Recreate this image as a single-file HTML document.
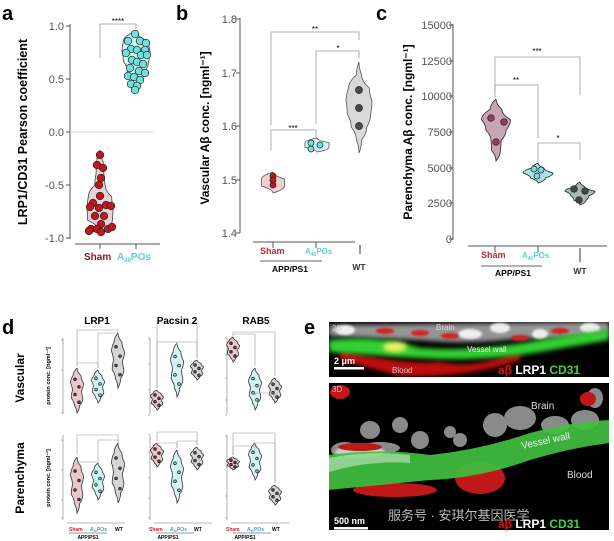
<!DOCTYPE html>
<html><head><meta charset="utf-8"><style>
html,body{margin:0;padding:0;background:#fff;}
svg{display:block;font-family:"Liberation Sans",sans-serif;}
.t{font-size:11px;fill:#555;}
.b{font-weight:bold;}
</style></head><body>
<svg id="s" width="614" height="541" viewBox="0 0 614 541" xmlns="http://www.w3.org/2000/svg">
<defs>
<filter id="bl" x="-20%" y="-50%" width="140%" height="200%"><feGaussianBlur stdDeviation="2.5"/></filter>
<filter id="bl2" x="-20%" y="-50%" width="140%" height="200%"><feGaussianBlur stdDeviation="1"/></filter>
<clipPath id="c2d"><rect x="329" y="322" width="280" height="55"/></clipPath>
<clipPath id="c3d"><rect x="329" y="383" width="280" height="147"/></clipPath>
</defs>
<g id="shapes"></g>
<text x="2" y="20" font-size="20" class="b">a</text>
<text x="176" y="20" font-size="20" class="b">b</text>
<text x="376" y="20" font-size="20" class="b">c</text>
<text x="2" y="334" font-size="20" class="b">d</text>
<text x="304" y="334" font-size="20" class="b">e</text>
<g class="t" text-anchor="end">
<text x="64" y="30">1.0</text><text x="64" y="83">0.5</text><text x="64" y="136">0.0</text><text x="64" y="189">-0.5</text><text x="64" y="242">-1.0</text>
</g>
<text transform="translate(27,132) rotate(-90)" text-anchor="middle" font-size="12.5" class="b">LRP1/CD31 Pearson coefficient</text>
<text x="118" y="24" font-size="8" text-anchor="middle">****</text>
<text x="84" y="260" font-size="10" class="b" fill="#8b1a1f">Sham</text>
<text x="117" y="260" font-size="10" class="b" fill="#5ed0d0">A<tspan font-size="6" dy="2">40</tspan><tspan dy="-2">POs</tspan></text>
<g class="t" text-anchor="end" font-size="10">
<text x="237" y="23">1.8</text><text x="237" y="77">1.7</text><text x="237" y="130">1.6</text><text x="237" y="184">1.5</text><text x="237" y="237">1.4</text>
</g>
<text transform="translate(209,128) rotate(-90)" text-anchor="middle" font-size="12" class="b">Vascular Aβ  conc. [ngml⁻¹]</text>
<text x="315" y="32" font-size="8" text-anchor="middle">**</text>
<text x="338" y="51" font-size="8" text-anchor="middle">*</text>
<text x="293" y="131" font-size="8" text-anchor="middle">***</text>
<text x="260" y="254" font-size="9" class="b" fill="#c0282d">Sham</text>
<text x="305" y="254" font-size="8" class="b" fill="#5ed0d0">A<tspan font-size="5" dy="2">40</tspan><tspan dy="-2">POs</tspan></text>
<text x="290" y="272" font-size="8.5" class="b" text-anchor="middle">APP/PS1</text>
<text x="359" y="270" font-size="8.5" class="b" text-anchor="middle" fill="#333">WT</text>
<g class="t" text-anchor="end" font-size="10">
<text x="452" y="29">15000</text><text x="452" y="65">12500</text><text x="452" y="100">10000</text><text x="452" y="136">7500</text><text x="452" y="172">5000</text><text x="452" y="207">2500</text><text x="452" y="243">0</text>
</g>
<text transform="translate(412,132) rotate(-90)" text-anchor="middle" font-size="12" class="b">Parenchyma Aβ conc. [ngml⁻¹]</text>
<text x="537" y="54" font-size="8" text-anchor="middle">***</text>
<text x="516" y="83" font-size="8" text-anchor="middle">**</text>
<text x="558" y="141" font-size="8" text-anchor="middle">*</text>
<text x="481" y="258" font-size="9" class="b" fill="#c0282d">Sham</text>
<text x="522" y="258" font-size="8" class="b" fill="#5ed0d0">A<tspan font-size="5" dy="2">40</tspan><tspan dy="-2">POs</tspan></text>
<text x="513" y="276" font-size="8.5" class="b" text-anchor="middle">APP/PS1</text>
<text x="580" y="274" font-size="8.5" class="b" text-anchor="middle" fill="#333">WT</text>
<text x="97" y="324" font-size="10" class="b" text-anchor="middle">LRP1</text>
<text x="177" y="324" font-size="10" class="b" text-anchor="middle">Pacsin 2</text>
<text x="256" y="324" font-size="10" class="b" text-anchor="middle">RAB5</text>
<text transform="translate(24,378) rotate(-90)" text-anchor="middle" font-size="12" class="b">Vascular</text>
<text transform="translate(24,478) rotate(-90)" text-anchor="middle" font-size="12" class="b">Parenchyma</text>
<text transform="translate(50,376) rotate(-90)" text-anchor="middle" font-size="5.5" class="b">protein conc. [ngml⁻¹]</text>
<text transform="translate(50,478) rotate(-90)" text-anchor="middle" font-size="5.5" class="b">protein conc. [ngml⁻¹]</text>
<g font-size="5" class="b">
<text x="69" y="531" fill="#c0282d">Sham</text><text x="90" y="531" fill="#3aa8a8">A<tspan font-size="3" dy="1">40</tspan><tspan dy="-1">POs</tspan></text><text x="115" y="531">WT</text>
<text x="149" y="531" fill="#c0282d">Sham</text><text x="170" y="531" fill="#3aa8a8">A<tspan font-size="3" dy="1">40</tspan><tspan dy="-1">POs</tspan></text><text x="194" y="531">WT</text>
<text x="226" y="531" fill="#c0282d">Sham</text><text x="247" y="531" fill="#3aa8a8">A<tspan font-size="3" dy="1">40</tspan><tspan dy="-1">POs</tspan></text><text x="272" y="531">WT</text>
<text x="88" y="539" text-anchor="middle">APP/PS1</text><text x="168" y="539" text-anchor="middle">APP/PS1</text><text x="245" y="539" text-anchor="middle">APP/PS1</text>
</g>
<g id="etext">
<text x="332" y="331" font-size="8" fill="#ccc">2D</text>
<text x="436" y="330" font-size="8" fill="#ddd">Brain</text>
<text x="467" y="352" font-size="8" fill="#eee">Vessel wall</text>
<text x="392" y="373" font-size="8" fill="#ccc">Blood</text>
<text x="334" y="364" font-size="9" fill="#fff" class="b">2 μm</text>
<rect x="334" y="367" width="30" height="2.5" fill="#fff"/>
<text x="498" y="374" font-size="12" class="b"><tspan fill="#e01010">aβ</tspan> <tspan fill="#fff">LRP1</tspan> <tspan fill="#3ed83e">CD31</tspan></text>
<text x="332" y="392" font-size="8" fill="#ccc">3D</text>
<text x="531" y="409" font-size="10" fill="#ddd">Brain</text>
<text transform="translate(522,449) rotate(-12)" font-size="10" fill="#eee">Vessel wall</text>
<text x="567" y="478" font-size="10" fill="#ddd">Blood</text>
<text x="334" y="524" font-size="9" fill="#fff" class="b">500 nm</text>
<rect x="334" y="527" width="34" height="2.5" fill="#fff"/>
<text x="388" y="520" font-size="13" fill="#bbb" font-family="'Liberation Sans','Noto Sans CJK SC',sans-serif">服务号 · 安琪尔基因医学</text>
<text x="498" y="528" font-size="12" class="b"><tspan fill="#e01010">aβ</tspan> <tspan fill="#fff">LRP1</tspan> <tspan fill="#3ed83e">CD31</tspan></text>
</g>
</svg>
<script>
const NS="http://www.w3.org/2000/svg";
const G=document.getElementById('shapes');
function el(t,a,p){const e=document.createElementNS(NS,t);for(const k in a)e.setAttribute(k,a[k]);(p||G).appendChild(e);return e;}
function line(x1,y1,x2,y2,c,w){el('line',{x1,y1,x2,y2,stroke:c||'#333','stroke-width':w||1});}
function pl(pts,c,w){el('polyline',{points:pts,fill:'none',stroke:c||'#999','stroke-width':w||0.8});}
function violin(cx,yt,yb,w,fill,stroke,bulge){
 bulge=bulge||[0,0.5,1,0.8,0.5,0];
 let n=bulge.length-1,L=[],R=[];
 for(let i=0;i<=n;i++){let y=yt+(yb-yt)*i/n;L.push([cx-w/2*bulge[i],y]);R.push([cx+w/2*bulge[i],y]);}
 let d='M'+cx+','+yt;
 for(let i=1;i<=n;i++){let p0=R[i-1],p=R[i];d+=` Q${p0[0]},${(p0[1]+p[1])/2} ${p[0]},${p[1]}`;}
 for(let i=n-1;i>=0;i--){let p0=L[i+1],p=L[i];d+=` Q${p0[0]},${(p0[1]+p[1])/2} ${p[0]},${p[1]}`;}
 el('path',{d,fill,stroke:stroke||'#333','stroke-width':0.8});
}
function dot(x,y,r,f,s){el('circle',{cx:x,cy:y,r,fill:f,stroke:s||'#222','stroke-width':0.7});}
// panel a
line(70,24,70,239,'#555',1);
[26,79,132,185,238].forEach(y=>line(66,y,70,y,'#555'));
line(70,132,153,132,'#ccc',0.8);
line(75,244,160,244,'#555',1);line(100,244,100,249,'#555');line(136,244,136,249,'#555');
pl('100,58 100,24 136,24 136,29','#999');
violin(100,150,232,26,'#e8d4d8','#444',[0,0.25,0.3,0.4,0.9,1,0.95,0]);
violin(136,31,92,28,'#d8f2f2','#444',[0,0.9,1,0.9,0.6,0.3,0]);
const ra=[[100,155],[97,165],[103,168],[101,178],[99,185],[100,196],[93,203],[106,205],[90,207],[99,208],[111,206],[95,216],[104,216],[101,224],[91,229],[97,229],[108,229],[112,227],[89,231],[101,232]];
ra.forEach(p=>dot(p[0],p[1],3.8,'#c0181d'));
const ca=[[135,34],[128,41],[140,41],[146,43],[131,49],[137,50],[145,50],[126,53],[141,55],[147,55],[132,60],[137,62],[143,64],[130,68],[139,71],[145,73],[128,76],[134,77],[140,80],[131,84],[137,86],[135,90]];
ca.forEach(p=>dot(p[0],p[1],3.8,'#6ee0e0'));
// panel b
line(240,18,240,233,'#555');
[19,73,126,180,233].forEach(y=>line(236,y,240,y,'#555'));
line(253,242,355,242,'#555');line(273,242,273,248,'#555');line(316,242,316,248,'#555');
line(360,245,360,254,'#333',1);
line(260,261,322,261,'#333',0.8);
pl('271,125 271,32 359,32 359,40','#999');pl('316,124 316,51 359,51 359,58','#999');pl('271,150 271,130 316,130 316,138','#999');
violin(273,172,193,23,'#eecfd3','#555',[0,1,1,0]);
violin(317,138,152,24,'#d8f6f6','#555',[0,1,1,0]);
violin(359,62,153,26,'#d8d8d8','#555',[0,0.2,0.8,1,0.9,0.6,0.2,0]);
[[273,176],[273,180],[273,185]].forEach(p=>dot(p[0],p[1],3,'#c01818'));
[[311,143],[320,145],[311,149]].forEach(p=>dot(p[0],p[1],3,'#70e0e0'));
[[359,90],[359,108],[359,126]].forEach(p=>dot(p[0],p[1],3.5,'#4a4a4a'));
// panel c
line(453,24,453,240,'#555');
[25,61,96,132,168,203,239].forEach(y=>line(449,y,453,y,'#555'));
line(468,246,607,246,'#555');line(495,246,495,252,'#555');line(538,246,538,252,'#555');
line(580,248,580,262,'#333',1);
line(481,266,542,266,'#333',0.8);
pl('495,92 495,57 580,57 580,95','#999');pl('495,98 495,85 538,85 538,138','#999');pl('538,163 538,143 580,143 580,160','#999');
violin(496,99,161,29,'#c8a4b4','#222',[0,0.4,1,0.7,0.35,0.3,0]);
violin(538,163,183,30,'#a8e4e4','#222',[0,0.4,1,0.5,0]);
violin(580,182,205,30,'#a8b8b4','#222',[0,0.3,1,0.6,0.4,0]);
[[491,118],[504,122],[496,142]].forEach(p=>dot(p[0],p[1],3.3,'#9b3a5a'));
[[534,169],[541,170],[537,176]].forEach(p=>dot(p[0],p[1],3,'#70e0e0'));
[[574,189],[585,191],[579,200]].forEach(p=>dot(p[0],p[1],3.3,'#3e4a48'));
// panel d
const cols=[[63,[77,98,118]],[150,[157,177,197]],[227,[233,255,275]]];
const rows=[[338,414],[435,520]];
const vd=[
 [[[368,413],[370,403],[333,388]],[[457,513],[463,500],[443,503]]],
 [[[390,410],[343,397],[360,380]],[[443,467],[450,503],[447,470]]],
 [[[337,362],[368,410],[378,403]],[[457,470],[443,480],[485,505]]]
];
const ytk=[[[340,370,413],[440,470,500,518]],[[338,364,390,415],[434,452,478,498,518]],[[338,355,378,400,415],[436,466,496,518]]];
const br=[
 [[[0,2,330],[1,2,333],[0,1,363]],[[0,2,435],[1,2,440],[0,1,462]]],
 [[[0,2,323],[0,1,342],[1,2,342]],[[0,2,432],[0,1,443],[1,2,441]]],
 [[[0,2,332],[0,1,334],[1,2,393]],[[0,2,433],[0,1,446],[1,2,443]]]
];
const fc=['#e8c8cf','#d4f2f2','#d6d6d6'], dc=['#8b2a3a','#6ed8d8','#555'];
cols.forEach((c,ci)=>{
 rows.forEach((r,ri)=>{
  line(c[0],r[0],c[0],r[1],'#777',0.6);
  ytk[ci][ri].forEach(y=>line(c[0]-2,y,c[0],y,'#777',0.5));
  const v=vd[ci][ri];
  v.forEach((vv,gi)=>{
   const cx=c[1][gi];
   violin(cx,vv[0],vv[1],13,fc[gi],'#333',[0,0.6,1,0.7,0.9,0.4,0]);
   for(let k=0;k<4;k++)dot(cx+(k%2?2:-2),vv[0]+(vv[1]-vv[0])*(0.25+k*0.17),1.4,dc[gi],'#222');
  });
  br[ci][ri].forEach(b=>{const x1=c[1][b[0]],x2=c[1][b[1]];
   const e1=v[b[0]][0]-2,e2=v[b[1]][0]-2;
   pl(`${x1},${Math.max(e1,b[2]+3)} ${x1},${b[2]} ${x2},${b[2]} ${x2},${Math.max(e2,b[2]+3)}`,'#999',0.6);});
 });
 line(c[0]+4,523,c[0]+62,523,'#777',0.6);
 line(c[0]+6,533,c[0]+44,533,'#333',0.5);
});
// panel e
el('rect',{x:329,y:322,width:280,height:55,fill:'#000'});
const g2=el('g',{'clip-path':'url(#c2d)'});
el('path',{d:'M329,325 L609,322 L609,334 Q560,340 520,338 Q470,345 420,340 L329,336Z',fill:'#bbb',filter:'url(#bl)',opacity:0.8},g2);
[[345,330,10],[470,334,12],[500,328,10],[540,334,8],[590,328,10]].forEach(b=>el('ellipse',{cx:b[0],cy:b[1],rx:b[2],ry:5,fill:'#eee',filter:'url(#bl2)'},g2));
el('path',{d:'M340,350 Q400,365 440,362 Q470,368 500,358 L520,352 L520,360 Q470,378 400,376 L340,360Z',fill:'#c01010',filter:'url(#bl)'},g2);
[[385,331],[420,333],[450,336],[560,331],[520,338]].forEach(b=>el('ellipse',{cx:b[0],cy:b[1],rx:9,ry:3,fill:'#d02020',filter:'url(#bl2)'},g2));
el('path',{d:'M329,340 Q380,335 420,348 Q480,352 540,340 Q580,333 609,330 L609,340 Q580,345 540,352 Q480,362 420,358 Q370,355 329,352Z',fill:'#30d030',filter:'url(#bl)'},g2);
el('ellipse',{cx:395,cy:347,rx:12,ry:5,fill:'#f0f060',filter:'url(#bl)'},g2);
el('rect',{x:329,y:383,width:280,height:147,fill:'#000'});
const g3=el('g',{'clip-path':'url(#c3d)'});
[[345,450,14,8],[370,430,10,9],[400,425,8,8],[420,440,9,9],[460,440,7,7],[495,425,12,12],[520,418,16,12],[555,425,14,9],[585,420,14,10],[595,398,8,10],[450,432,6,6],[380,448,20,6]].forEach(b=>el('ellipse',{cx:b[0],cy:b[1],rx:b[2],ry:b[3],fill:'#8a8a8a'},g3));
el('ellipse',{cx:360,cy:452,rx:25,ry:6,fill:'#ccc',filter:'url(#bl2)'},g3);
el('ellipse',{cx:395,cy:490,rx:42,ry:7,fill:'#c01818'},g3);
el('ellipse',{cx:480,cy:478,rx:25,ry:16,fill:'#c01818'},g3);
el('ellipse',{cx:360,cy:447,rx:22,ry:4,fill:'#c01818'},g3);
el('ellipse',{cx:340,cy:392,rx:10,ry:7,fill:'#c01818'},g3);el('ellipse',{cx:588,cy:399,rx:8,ry:7,fill:'#c01818'},g3);
el('path',{d:'M329,455 Q380,448 430,455 Q480,450 530,433 Q570,422 609,420 L609,443 Q570,448 530,460 Q480,478 430,480 Q380,485 329,490Z',fill:'#40c040',opacity:0.92},g3);
el('path',{d:'M329,458 Q370,450 410,455 L410,463 Q370,460 329,472Z',fill:'#c8e8c8',opacity:0.6},g3);
el('rect',{x:329,y:377,width:280,height:6,fill:'#fff'});
</script>
</body></html>
